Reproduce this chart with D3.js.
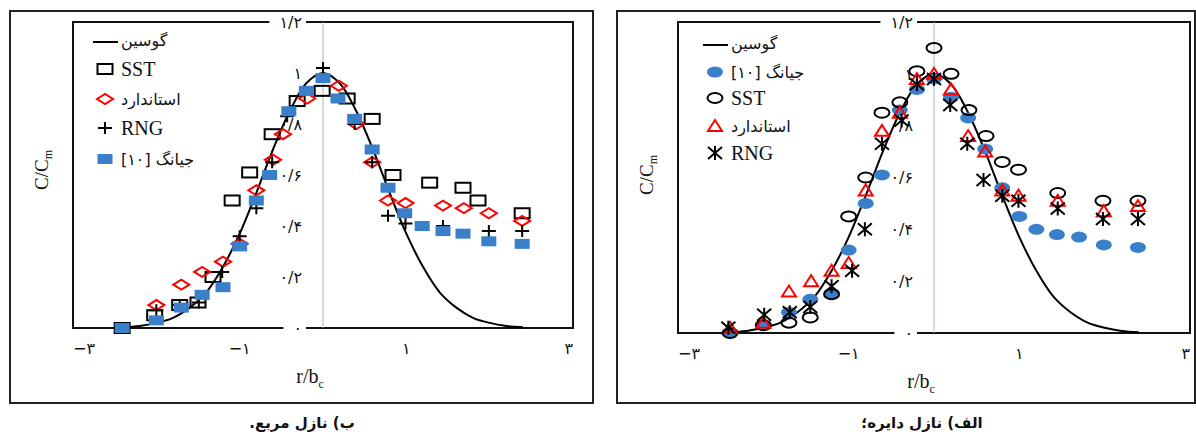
<!DOCTYPE html>
<html><head><meta charset="utf-8">
<script src="https://cdn.jsdelivr.net/npm/d3@7"></script>
<style>body{margin:0;background:#fff}svg{display:block}</style>
</head><body>
<svg id="c" width="1196" height="438"></svg>
<script>
// ---------- data ----------
const xTickValues = [-3, -1, 1, 3];
const xTickLabels = ["−۳", "−۱", "۱", "۳"];
const yTickValues = [0, 0.2, 0.4, 0.6, 0.8, 1, 1.2];
const yTickLabels = ["۰", "۰/۲", "۰/۴", "۰/۶", "۰/۸", "۱", "۱/۲"];

// Gaussian curve
const gaussR = [-2.4,-2.2,-2.0,-1.8,-1.6,-1.4,-1.2,-1.0,-0.8,-0.6,-0.4,-0.2,0,0.2,0.4,0.6,0.8,1.0,1.2,1.4,1.6,1.8,2.0,2.2,2.4];
const gaussV = [0.003,0.008,0.02,0.04,0.08,0.14,0.24,0.37,0.53,0.70,0.85,0.96,1.0,0.96,0.85,0.70,0.53,0.37,0.24,0.14,0.08,0.04,0.02,0.008,0.003];

// Square nozzle (left panel)
const sqSstR = [-2.41,-2.02,-1.72,-1.5,-1.32,-1.09,-0.88,-0.61,-0.31,-0.01,0.29,0.59,0.84,1.28,1.68,1.86,2.39];
const sqSstV = [0.0,0.05,0.09,0.10,0.20,0.50,0.61,0.76,0.89,0.93,0.90,0.82,0.60,0.57,0.55,0.50,0.45];
const sqStdR = [-2.0,-1.7,-1.45,-1.2,-1.0,-0.8,-0.6,-0.48,-0.19,0.19,0.40,0.59,0.78,0.99,1.44,1.69,1.99,2.39];
const sqStdV = [0.09,0.17,0.22,0.26,0.33,0.54,0.66,0.76,0.90,0.95,0.80,0.65,0.50,0.49,0.48,0.47,0.45,0.42];
const sqRngR = [-2.0,-1.72,-1.49,-1.21,-1.0,-0.8,-0.61,-0.43,0,0.38,0.59,0.78,0.99,1.44,1.99,2.39];
const sqRngV = [0.07,0.09,0.10,0.22,0.36,0.47,0.65,0.83,1.02,0.80,0.65,0.44,0.41,0.40,0.38,0.38];
const sqJiangR = [-2.41,-2.0,-1.7,-1.45,-1.2,-1.0,-0.8,-0.64,-0.41,-0.2,0,0.18,0.38,0.59,0.78,0.98,1.19,1.44,1.68,1.99,2.39];
const sqJiangV = [0.0,0.03,0.08,0.13,0.16,0.32,0.50,0.60,0.85,0.93,0.98,0.90,0.82,0.70,0.55,0.45,0.40,0.38,0.37,0.34,0.33];

// Circular nozzle (right panel)
const ciJiangR = [-2.39,-2.0,-1.7,-1.45,-1.2,-1.0,-0.8,-0.61,-0.4,-0.2,0,0.2,0.4,0.6,0.8,1.0,1.2,1.44,1.7,1.99,2.39];
const ciJiangV = [0.0,0.03,0.08,0.13,0.15,0.32,0.50,0.61,0.86,0.94,0.98,0.91,0.83,0.71,0.56,0.45,0.40,0.38,0.37,0.34,0.33];
const ciSstR = [-2.39,-2.0,-1.7,-1.45,-1.2,-1.0,-0.8,-0.61,-0.4,-0.2,0,0.2,0.41,0.61,0.80,0.99,1.45,1.98,2.39];
const ciSstV = [0.0,0.03,0.04,0.06,0.15,0.45,0.60,0.85,0.89,1.01,1.10,1.0,0.86,0.76,0.66,0.63,0.54,0.51,0.51];
const ciStdR = [-2.39,-2.0,-1.7,-1.44,-1.2,-1.0,-0.8,-0.61,-0.4,-0.2,0,0.2,0.40,0.60,0.80,0.99,1.45,1.99,2.39];
const ciStdV = [0.02,0.04,0.16,0.20,0.24,0.27,0.55,0.78,0.85,0.98,1.0,0.94,0.76,0.70,0.55,0.53,0.51,0.47,0.49];
const ciRngR = [-2.41,-1.99,-1.69,-1.45,-1.2,-0.96,-0.81,-0.61,-0.38,-0.2,0,0.19,0.39,0.58,0.80,0.99,1.45,1.98,2.39];
const ciRngV = [0.02,0.07,0.08,0.10,0.18,0.24,0.40,0.73,0.82,0.96,0.98,0.88,0.73,0.59,0.53,0.51,0.48,0.44,0.44];

const nameGauss = "گوسین";
const nameStd = "استاندارد";
const nameJiang = "جیانگ [۱۰]";
const captionLeft = "ب) نازل مربع.";
const captionRight = "الف) نازل دایره؛";

// ---------- drawing ----------
const svg = d3.select("#c");
const BLUE = "#3a7fca", RED = "#ff0000";
const LAT = "'Liberation Serif','Times New Roman',serif";
const FA = "'DejaVu Sans',sans-serif";
const zip = (a, b) => a.map((v, i) => [v, b[i]]);

const markers = {
  square: (g, cx, cy, o) => g.append("rect").attr("x", cx - 7.5).attr("y", cy - 5).attr("width", 15).attr("height", 10)
      .attr("fill", o.fill || "none").attr("stroke", o.stroke || "none").attr("stroke-width", 2),
  diamond: (g, cx, cy) => g.append("path").attr("d", `M${cx - 8},${cy}L${cx},${cy - 5}L${cx + 8},${cy}L${cx},${cy + 5}Z`)
      .attr("fill", "none").attr("stroke", RED).attr("stroke-width", 2),
  plus: (g, cx, cy) => g.append("path").attr("d", `M${cx - 7},${cy}H${cx + 7}M${cx},${cy - 6}V${cy + 6}`)
      .attr("stroke", "#000").attr("stroke-width", 2).attr("fill", "none"),
  ellipse: (g, cx, cy) => g.append("ellipse").attr("cx", cx).attr("cy", cy).attr("rx", 8).attr("ry", 5.5).attr("fill", BLUE),
  circle: (g, cx, cy) => g.append("ellipse").attr("cx", cx).attr("cy", cy).attr("rx", 7.5).attr("ry", 5)
      .attr("fill", "none").attr("stroke", "#000").attr("stroke-width", 2),
  triangle: (g, cx, cy) => g.append("path").attr("d", `M${cx - 7},${cy + 5}L${cx},${cy - 6}L${cx + 7},${cy + 5}Z`)
      .attr("fill", "none").attr("stroke", RED).attr("stroke-width", 2),
  star: (g, cx, cy) => g.append("path").attr("d", `M${cx - 7},${cy - 6}L${cx + 7},${cy + 6}M${cx + 7},${cy - 6}L${cx - 7},${cy + 6}M${cx},${cy - 7}V${cy + 7}`)
      .attr("stroke", "#000").attr("stroke-width", 2).attr("fill", "none")
};

function drawPanel(p) {
  const g = svg.append("g");
  const x = d3.scaleLinear().domain([-3, 3]).range([p.left, p.right]);
  const y = d3.scaleLinear().domain([0, 1.2]).range([p.bottom, p.top]);

  g.append("rect").attr("x", p.ox0).attr("y", p.oy0).attr("width", p.ox1 - p.ox0).attr("height", p.oy1 - p.oy0)
    .attr("fill", "none").attr("stroke", "#222").attr("stroke-width", 2);
  g.append("rect").attr("x", p.left).attr("y", p.top).attr("width", p.right - p.left).attr("height", p.bottom - p.top)
    .attr("fill", "none").attr("stroke", "#111").attr("stroke-width", 2);
  g.append("line").attr("x1", x(0)).attr("x2", x(0)).attr("y1", p.top).attr("y2", p.bottom)
    .attr("stroke", p.zeroColor).attr("stroke-width", 1);

  yTickValues.forEach((v, i) => {
    const t = g.append("text").attr("x", x(0) - 21).attr("y", y(v)).attr("dy", "0.36em")
      .attr("text-anchor", "end").attr("font-family", FA).attr("font-size", 16).attr("fill", "#111")
      .text(yTickLabels[i]);
    const b = t.node().getBBox();
    if (i === 0 || i === yTickValues.length - 1) {
      g.insert("rect", () => t.node()).attr("x", b.x - 10).attr("y", y(v) - 4).attr("width", b.width + 14).attr("height", 8).attr("fill", "#fff");
    }
  });
  xTickValues.forEach((v, i) => {
    const anchor = i === 0 ? "start" : (i === xTickValues.length - 1 ? "end" : "middle");
    g.append("text").attr("x", x(v)).attr("y", p.bottom + 26).attr("text-anchor", anchor)
      .attr("font-family", FA).attr("font-size", 16).attr("fill", "#111").text(xTickLabels[i]);
  });

  const yt = g.append("text").attr("transform", `translate(${p.ytX},${p.ytY}) rotate(-90)`)
    .attr("text-anchor", "middle").attr("font-family", LAT).attr("font-size", 19).attr("fill", "#111");
  yt.append("tspan").text("C/C");
  yt.append("tspan").attr("font-size", 12).attr("dy", 4).text("m");
  const xt = g.append("text").attr("x", x(0) - 13).attr("y", p.bottom + 55).attr("text-anchor", "middle")
    .attr("font-family", LAT).attr("font-size", 20).attr("fill", "#111");
  xt.append("tspan").text("r/b");
  xt.append("tspan").attr("font-size", 12).attr("dy", 5).text("c");

  g.append("text").attr("x", p.capX).attr("y", 428).attr("text-anchor", "middle").attr("direction", "rtl")
    .attr("font-family", FA).attr("font-weight", "bold").attr("font-size", 15).attr("fill", "#111").text(p.caption);

  g.append("path").datum(zip(gaussR, gaussV))
    .attr("d", d3.line().x(d => x(d[0])).y(d => y(d[1])).curve(d3.curveCatmullRom.alpha(0.5)))
    .attr("fill", "none").attr("stroke", "#000").attr("stroke-width", 2);

  p.series.forEach(s => {
    zip(s.r, s.v).forEach(d => markers[s.marker](g, x(d[0]), y(d[1]), s.opt || {}));
  });

  const lg = p.legend;
  g.append("line").attr("x1", lg.x0).attr("x2", lg.x0 + 25).attr("y1", lg.gaussY).attr("y2", lg.gaussY)
    .attr("stroke", "#000").attr("stroke-width", 2);
  legendText(g, lg.x0 + 28, lg.gaussY - 2, nameGauss, true);
  lg.items.forEach(it => {
    const s = p.series[it.idx];
    markers[s.marker](g, lg.x0 + 12, it.y, s.opt || {});
    legendText(g, lg.x0 + 28, it.y, it.label, it.rtl);
  });
}

function legendText(g, xLeft, yc, txt, rtl) {
  const t = g.append("text").attr("y", yc).attr("dy", "0.35em").attr("fill", "#111");
  if (rtl) {
    t.attr("x", xLeft).attr("direction", "rtl").attr("text-anchor", "end")
      .attr("font-family", FA).attr("font-size", 16).text(txt);
  } else {
    t.attr("x", xLeft).attr("text-anchor", "start").attr("font-family", LAT).attr("font-size", 20).text(txt);
  }
}

drawPanel({
  ox0: 10, oy0: 11, ox1: 593, oy1: 403,
  left: 73, right: 573, top: 22, bottom: 328,
  zeroColor: "#b4b4b4", ytX: 48, ytY: 170, capX: 302, caption: captionLeft,
  series: [
    { r: sqSstR, v: sqSstV, marker: "square", opt: { stroke: "#000" } },
    { r: sqStdR, v: sqStdV, marker: "diamond" },
    { r: sqRngR, v: sqRngV, marker: "plus" },
    { r: sqJiangR, v: sqJiangV, marker: "square", opt: { fill: BLUE } }
  ],
  legend: { x0: 93, gaussY: 42, items: [
    { idx: 0, y: 69, label: "SST" },
    { idx: 1, y: 99, label: nameStd, rtl: true },
    { idx: 2, y: 128, label: "RNG" },
    { idx: 3, y: 159, label: nameJiang, rtl: true }
  ] }
});

drawPanel({
  ox0: 617, oy0: 11, ox1: 1195, oy1: 403,
  left: 678, right: 1190, top: 22, bottom: 333,
  zeroColor: "#a8b3d8", ytX: 653, ytY: 175, capX: 922, caption: captionRight,
  series: [
    { r: ciJiangR, v: ciJiangV, marker: "ellipse" },
    { r: ciSstR, v: ciSstV, marker: "circle" },
    { r: ciStdR, v: ciStdV, marker: "triangle" },
    { r: ciRngR, v: ciRngV, marker: "star" }
  ],
  legend: { x0: 703, gaussY: 45, items: [
    { idx: 0, y: 72, label: nameJiang, rtl: true },
    { idx: 1, y: 98, label: "SST" },
    { idx: 2, y: 126, label: nameStd, rtl: true },
    { idx: 3, y: 153, label: "RNG" }
  ] }
});
</script>
</body></html>
